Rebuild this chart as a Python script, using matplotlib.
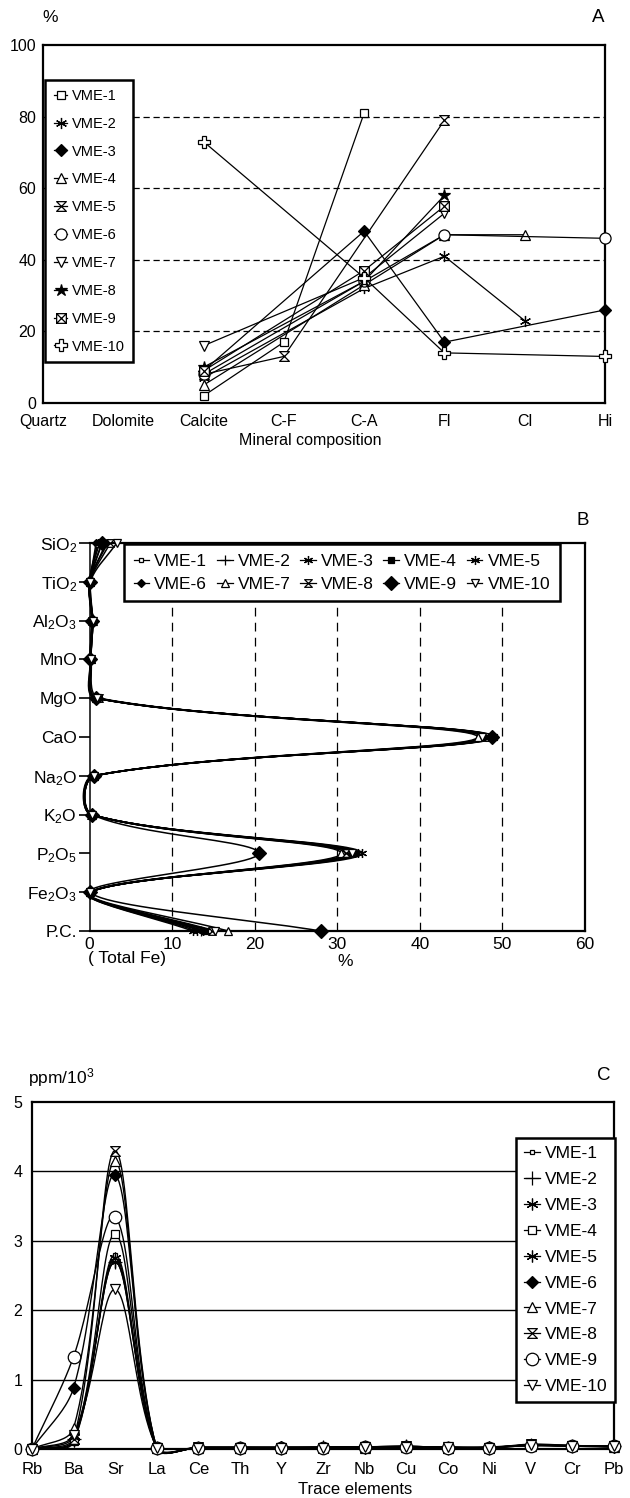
import numpy as np
import matplotlib
matplotlib.use('Agg')
import matplotlib.pyplot as plt
from matplotlib.path import Path

plt.rcParams['font.family'] = ['Liberation Sans', 'DejaVu Sans']
plt.rcParams['mathtext.fontset'] = 'custom'
plt.rcParams['mathtext.rm'] = 'Liberation Sans'
plt.rcParams['mathtext.it'] = 'Liberation Sans'
plt.rcParams['mathtext.default'] = 'rm'

nan = np.nan
names = ['VME-1', 'VME-2', 'VME-3', 'VME-4', 'VME-5',
         'VME-6', 'VME-7', 'VME-8', 'VME-9', 'VME-10']

# ---- A : mineral composition (%)
minerals = ['Quartz', 'Dolomite', 'Calcite', 'C-F', 'C-A', 'Fl', 'Cl', 'Hi']
vme1_a = [nan, nan, 2, 17, 81, nan, nan, nan]
vme2_a = [nan, nan, 7, nan, 32, 41, 23, nan]
vme3_a = [nan, nan, 9, nan, 48, 17, nan, 26]
vme4_a = [nan, nan, 5, nan, 33, 47, 47, nan]
vme5_a = [nan, nan, 8, 13, nan, 79, nan, nan]
vme6_a = [nan, nan, 8, nan, 34, 47, nan, 46]
vme7_a = [nan, nan, 16, nan, 35, 53, nan, nan]
vme8_a = [nan, nan, 10, nan, 34, 58, nan, nan]
vme9_a = [nan, nan, 9, nan, 37, 55, nan, nan]
vme10_a = [nan, nan, 73, nan, 35, 14, nan, 13]

# ---- B : major oxides (%)
oxides = ['SiO$_2$', 'TiO$_2$', 'Al$_2$O$_3$', 'MnO', 'MgO', 'CaO',
          'Na$_2$O', 'K$_2$O', 'P$_2$O$_5$', 'Fe$_2$O$_3$', 'P.C.']
vme1_b = [1.0, 0.1, 0.4, 0.2, 0.8, 48.5, 0.6, 0.3, 32.0, 0.1, 14.5]
vme2_b = [1.5, 0.1, 0.3, 0.2, 0.9, 48.8, 0.5, 0.2, 31.5, 0.1, 13.5]
vme3_b = [2.2, 0.0, 0.3, 0.1, 0.7, 48.3, 0.5, 0.3, 32.5, 0.0, 13.0]
vme4_b = [2.0, 0.1, 0.4, 0.2, 0.8, 49.0, 0.6, 0.3, 31.8, 0.1, 14.0]
vme5_b = [1.0, 0.0, 0.3, 0.2, 1.0, 48.0, 0.4, 0.2, 33.0, 0.0, 12.5]
vme6_b = [0.8, 0.1, 0.3, 0.1, 0.9, 48.6, 0.5, 0.3, 32.2, 0.1, 13.8]
vme7_b = [1.2, 0.0, 0.4, 0.2, 0.8, 47.0, 0.6, 0.3, 30.5, 0.1, 16.8]
vme8_b = [2.5, 0.1, 0.3, 0.2, 1.2, 48.2, 0.5, 0.2, 31.0, 0.0, 14.8]
vme9_b = [1.5, 0.0, 0.3, 0.1, 0.8, 48.7, 0.5, 0.3, 20.5, 0.1, 28.0]
vme10_b = [3.3, 0.1, 0.4, 0.2, 0.9, 47.5, 0.6, 0.3, 31.8, 0.1, 15.2]

# ---- C : trace elements (ppm/10^3)
elements = ['Rb', 'Ba', 'Sr', 'La', 'Ce', 'Th', 'Y', 'Zr', 'Nb', 'Cu',
            'Co', 'Ni', 'V', 'Cr', 'Pb']
vme1_c = [0, 0.10, 2.80, 0.01, 0.02, 0.02, 0.02, 0.02, 0.03, 0.03, 0.02, 0.02, 0.05, 0.04, 0.03]
vme2_c = [0, 0.15, 2.70, 0.01, 0.02, 0.02, 0.02, 0.03, 0.03, 0.04, 0.02, 0.02, 0.06, 0.04, 0.04]
vme3_c = [0, 0.12, 2.75, 0.02, 0.02, 0.02, 0.02, 0.02, 0.02, 0.03, 0.02, 0.03, 0.05, 0.05, 0.03]
vme4_c = [0, 0.12, 3.10, 0.01, 0.02, 0.03, 0.02, 0.02, 0.03, 0.03, 0.03, 0.02, 0.06, 0.04, 0.04]
vme5_c = [0, 0.18, 2.70, 0.01, 0.02, 0.02, 0.02, 0.02, 0.03, 0.04, 0.02, 0.02, 0.05, 0.05, 0.03]
vme6_c = [0, 0.88, 3.95, 0.02, 0.02, 0.02, 0.03, 0.02, 0.03, 0.03, 0.02, 0.02, 0.06, 0.04, 0.04]
vme7_c = [0, 0.30, 4.15, 0.01, 0.02, 0.02, 0.02, 0.03, 0.02, 0.03, 0.02, 0.03, 0.05, 0.04, 0.03]
vme8_c = [0, 0.14, 4.30, 0.01, 0.03, 0.02, 0.02, 0.02, 0.03, 0.04, 0.02, 0.02, 0.07, 0.05, 0.04]
vme9_c = [0, 1.33, 3.35, 0.01, 0.02, 0.02, 0.02, 0.02, 0.03, 0.03, 0.02, 0.02, 0.05, 0.04, 0.04]
vme10_c = [0, 0.20, 2.30, 0.02, 0.02, 0.02, 0.02, 0.02, 0.03, 0.03, 0.03, 0.02, 0.06, 0.05, 0.04]

data_a = [vme1_a, vme2_a, vme3_a, vme4_a, vme5_a, vme6_a, vme7_a, vme8_a, vme9_a, vme10_a]
data_b = [vme1_b, vme2_b, vme3_b, vme4_b, vme5_b, vme6_b, vme7_b, vme8_b, vme9_b, vme10_b]
data_c = [vme1_c, vme2_c, vme3_c, vme4_c, vme5_c, vme6_c, vme7_c, vme8_c, vme9_c, vme10_c]


def smooth(xs, ys, sx, sy, n=24):
    # excel style smoothed line (bezier, tangents weighted by segment length in px)
    P = np.column_stack([np.asarray(xs, float) * sx, np.asarray(ys, float) * sy])
    m = len(P)
    prev = np.vstack([P[:1], P[:-1]])
    nxt = np.vstack([P[1:], P[-1:]])
    d = np.r_[0, np.hypot(*np.diff(P, axis=0).T), 0]
    t = np.linspace(0, 1, n)[:, None]
    segs = []
    for i in range(m - 1):
        a, b = P[i], P[i + 1]
        dn = d[i + 1]
        ta = d[i] + dn
        tb = dn + d[i + 2]
        c1 = a + (nxt[i] - prev[i]) * (dn / (3 * ta) if ta > 0 else 0)
        c2 = b - (nxt[i + 1] - prev[i + 1]) * (dn / (3 * tb) if tb > 0 else 0)
        segs.append((1 - t) ** 3 * a + 3 * (1 - t) ** 2 * t * c1
                    + 3 * (1 - t) * t ** 2 * c2 + t ** 3 * b)
    out = np.vstack(segs)
    return out[:, 0] / sx, out[:, 1] / sy


hourglass = Path([(-1, 1), (1, 1), (-1, -1), (1, -1), (-1, 1)],
                 [Path.MOVETO, Path.LINETO, Path.LINETO, Path.LINETO, Path.CLOSEPOLY])
boxx = Path([(-1, -1), (1, -1), (1, 1), (-1, 1), (-1, -1), (-1, -1), (1, 1), (-1, 1), (1, -1)],
            [Path.MOVETO, Path.LINETO, Path.LINETO, Path.LINETO, Path.CLOSEPOLY,
             Path.MOVETO, Path.LINETO, Path.MOVETO, Path.LINETO])
aster = (6, 2, 0)

sty_a = [('s', 'white', 5.5), (aster, 'none', 8), ('D', 'black', 6), ('^', 'white', 7),
         (hourglass, 'white', 7), ('o', 'white', 8), ('v', 'white', 7), ('*', 'black', 9),
         (boxx, 'white', 7), ('P', 'white', 8)]
sty_b = [('s', 'white', 3.5), ('+', 'none', 7), (aster, 'none', 6.5), ('s', 'black', 4),
         (aster, 'none', 6.5), ('D', 'black', 4.5), ('^', 'white', 5.5), (hourglass, 'white', 5.5),
         ('D', 'black', 7.5), ('v', 'white', 5.5)]
sty_c = [('s', 'white', 3.5), ('+', 'none', 10), (aster, 'none', 8.5), ('s', 'white', 6),
         (aster, 'none', 8.5), ('D', 'black', 6), ('^', 'white', 7), (hourglass, 'white', 7),
         ('o', 'white', 9), ('v', 'white', 7)]

W, H = 630, 1498
fig = plt.figure(figsize=(W / 100, H / 100), dpi=100)


def box(l, t, r, b):
    return [l / W, 1 - b / H, (r - l) / W, (b - t) / H]


def frame(ax, lw=1.6):
    for s in ax.spines.values():
        s.set_linewidth(lw)


leg_kw = dict(frameon=True, fancybox=False, framealpha=1, edgecolor='black',
              borderaxespad=0, handletextpad=0.3)

# ================= A
axA = fig.add_axes(box(43, 45, 605, 403))
xa = np.arange(len(minerals))
for y in (20, 40, 60, 80):
    axA.axhline(y, color='black', lw=0.9, ls=(0, (5, 3)), zorder=1)
for vals, name, (mk, fc, ms) in zip(data_a, names, sty_a):
    v = np.array(vals, float)
    ok = ~np.isnan(v)
    axA.plot(xa[ok], v[ok], color='black', lw=0.9, marker=mk, mfc=fc, mec='black',
             mew=0.9, ms=ms, label=name, clip_on=False, zorder=3)
axA.set_xlim(0, len(minerals) - 1)
axA.set_ylim(0, 100)
axA.set_yticks(range(0, 101, 20))
axA.set_xticks(xa)
axA.set_xticklabels(minerals)
axA.tick_params(axis='x', length=0, pad=8, labelsize=11.5)
axA.tick_params(axis='y', length=0, pad=5, labelsize=11.5)
frame(axA)
lgA = axA.legend(loc='upper left', bbox_to_anchor=(0.004, 0.902), fontsize=10.5,
                 handlelength=0.9, labelspacing=0.95, borderpad=0.6, **leg_kw)
lgA.get_frame().set_linewidth(1.8)
fig.text(50 / W, 1 - 18 / H, '%', ha='center', va='center', fontsize=12.5)
fig.text(598 / W, 1 - 18 / H, 'A', ha='center', va='center', fontsize=13.5)
fig.text(310 / W, 1 - 440 / H, 'Mineral composition', ha='center', va='center', fontsize=11.5)

# ================= B
axB = fig.add_axes(box(89.5, 543, 585, 931))
yb = np.arange(len(oxides))
for x in (10, 20, 30, 40, 50):
    axB.axvline(x, color='black', lw=0.9, ls=(0, (7, 5)), zorder=1)
sxB, syB = 495.5 / 60, 388 / 10
hB = []
for vals, name, (mk, fc, ms) in zip(data_b, names, sty_b):
    cx, cy = smooth(vals, yb, sxB, syB)
    axB.plot(cx, cy, color='black', lw=1.1, clip_on=False, zorder=2)
    axB.plot(vals, yb, ls='none', marker=mk, mfc=fc, mec='black', mew=0.9, ms=ms,
             clip_on=False, zorder=3)
    h, = axB.plot([], [], color='black', lw=0.9, marker=mk, mfc=fc, mec='black', mew=0.9,
                  ms=ms, label=name)
    hB.append(h)
axB.set_xlim(0, 60)
axB.set_ylim(len(oxides) - 1, 0)
axB.set_yticks(yb)
axB.set_yticklabels(oxides)
axB.set_xticks(range(0, 61, 10))
axB.tick_params(axis='x', length=0, pad=4, labelsize=12.5)
axB.tick_params(axis='y', length=8, width=1.2, pad=1, labelsize=12.5, direction='out')
frame(axB)
axB.spines['left'].set_linewidth(1.1)
# row-wise legend order: VME-1..5 on top, VME-6..10 below
orderB = [0, 5, 1, 6, 2, 7, 3, 8, 4, 9]
lgB = axB.legend([hB[i] for i in orderB], [names[i] for i in orderB],
                 loc='upper left', bbox_to_anchor=(0.0696, 0.997), ncol=5, fontsize=12.5,
                 handlelength=0.9, columnspacing=0.55, labelspacing=0.45, borderpad=0.55,
                 **leg_kw)
lgB.get_frame().set_linewidth(1.8)
fig.text(583 / W, 1 - 521 / H, 'B', ha='center', va='center', fontsize=13.5)
fig.text(127 / W, 1 - 958 / H, '( Total Fe)', ha='center', va='center', fontsize=12.5)
fig.text(345 / W, 1 - 961 / H, '%', ha='center', va='center', fontsize=12.5)

# ================= C
axC = fig.add_axes(box(32, 1102, 614, 1449))
xc = np.arange(len(elements))
for y in (1, 2, 3, 4):
    axC.axhline(y, color='black', lw=1.0, zorder=1)
sxC, syC = 582 / 14, 347 / 5
for vals, name, (mk, fc, ms) in zip(data_c, names, sty_c):
    cx, cy = smooth(xc, vals, sxC, syC)
    axC.plot(cx, cy, color='black', lw=1.0, clip_on=False, zorder=2)
    axC.plot(xc, vals, ls='none', marker=mk, mfc=fc, mec='black', mew=0.9, ms=ms,
             clip_on=False, zorder=3)
    axC.plot([], [], color='black', lw=0.9, marker=mk, mfc=fc, mec='black', mew=0.9,
             ms=ms, label=name)
axC.set_xlim(0, len(elements) - 1)
axC.set_ylim(0, 5)
axC.set_xticks(xc)
axC.set_xticklabels(elements)
axC.set_yticks(range(0, 6))
axC.tick_params(axis='x', length=0, pad=9, labelsize=12)
axC.tick_params(axis='y', length=0, pad=7, labelsize=11.5)
frame(axC)
lgC = axC.legend(loc='upper right', bbox_to_anchor=(1.002, 0.896), fontsize=12.5,
                 handlelength=0.9, labelspacing=0.62, borderpad=0.45, **leg_kw)
lgC.get_frame().set_linewidth(1.8)
fig.text(28 / W, 1 - 1078 / H, 'ppm/10$^3$', ha='left', va='center', fontsize=12.5)
fig.text(604 / W, 1 - 1076 / H, 'C', ha='center', va='center', fontsize=13.5)
fig.text(355 / W, 1 - 1490 / H, 'Trace elements', ha='center', va='center', fontsize=12)

fig.savefig('out.png', dpi=100)
